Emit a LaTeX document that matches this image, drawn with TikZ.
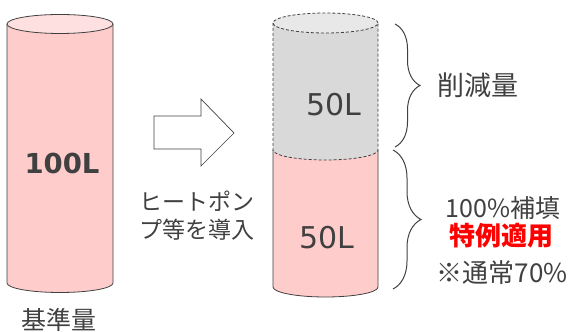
\documentclass[tikz,border=0pt]{standalone}
\usepackage{fontspec}
\setmainfont{Noto Sans CJK JP}
\newfontfamily\latinsans{DejaVu Sans}
\usetikzlibrary{decorations.pathreplacing}
\definecolor{txt}{HTML}{404040}
\definecolor{pinkbody}{HTML}{FFCCCC}
\definecolor{pinktop}{HTML}{FFE0E0}
\definecolor{graybody}{HTML}{D9D9D9}
\definecolor{graytop}{HTML}{E8E8E8}
\definecolor{edge}{HTML}{404040}
\definecolor{accent}{HTML}{FF0000}
\tikzset{
  outline/.style={draw=edge, line width=0.8pt},
  dashout/.style={draw=edge, line width=0.8pt, dash pattern=on 3pt off 2pt},
  lbl/.style={text=txt, inner sep=0pt},
  bracestyle/.style={draw=edge, line width=1pt, decorate},
}
\begin{document}
\begin{tikzpicture}[x=1pt,y=1pt]
\useasboundingbox (0,0) rectangle (571,332);

% left cylinder
\fill[pinkbody] (7,308) -- (7,49) arc[start angle=180,end angle=360,x radius=53,y radius=9.5] -- (113,308) -- cycle;
\draw[outline] (7,308) -- (7,49) arc[start angle=180,end angle=360,x radius=53,y radius=9.5] -- (113,308);
\draw[outline, fill=pinktop] (60,308) ellipse[x radius=53,y radius=9.5];
\node[lbl, font=\latinsans\fontsize{27.5}{32}\selectfont\bfseries] (hundred) at (62,168.5) {100L};
\node[lbl, font=\fontsize{25}{30}\selectfont] (base) at (59,12) {基準量};

% block arrow
\draw[outline, fill=white, line width=0.7pt] (154,216) -- (201,216) -- (201,233) -- (234,199) -- (201,166) -- (201,183) -- (154,183) -- cycle;
\node[lbl, font=\fontsize{23}{28}\selectfont, align=center] (intro) at (197,116) {ヒートポン\\プ等を導入};

% right cylinder: lower pink part
\fill[pinkbody] (273,182) -- (273,45) arc[start angle=180,end angle=360,x radius=52.5,y radius=10] -- (378,182) -- cycle;
\draw[outline] (273,182) -- (273,45) arc[start angle=180,end angle=360,x radius=52.5,y radius=10] -- (378,182);
% upper gray part
\fill[graybody] (273,309) -- (273,182) arc[start angle=180,end angle=360,x radius=52.5,y radius=10] -- (378,309) -- cycle;
\draw[dashout] (273,309) -- (273,182) arc[start angle=180,end angle=360,x radius=52.5,y radius=10] -- (378,309);
\draw[dashout, fill=graytop] (325.5,309) ellipse[x radius=52.5,y radius=10];
\node[lbl, font=\latinsans\fontsize{30}{34}\selectfont] (cut) at (333.5,227) {50L};
\node[lbl, font=\latinsans\fontsize{30}{34}\selectfont] (rest) at (327,94) {50L};

% braces
\coordinate (b1s) at (395,308);
\coordinate (b1e) at (395,185);
\coordinate (b2s) at (393,182);
\coordinate (b2e) at (393,43);
\draw[bracestyle, decoration={brace, amplitude=25pt}] (b1s) -- (b1e);
\draw[bracestyle, decoration={brace, amplitude=28pt}] (b2s) -- (b2e);

% right texts
\node[lbl, font=\fontsize{27}{32}\selectfont] (reduce) at (478,247) {削減量};
\node[lbl, font=\fontsize{25}{30}\selectfont] (full) at (503,124) {100\%補填};
\node[inner sep=0pt, text=accent, font=\fontsize{26}{30}\selectfont\bfseries] (special) at (501,96) {特例適用};
\node[lbl, font=\fontsize{26}{30}\selectfont] (normal) at (502,59) {※通常70\%};
\end{tikzpicture}
\end{document}
